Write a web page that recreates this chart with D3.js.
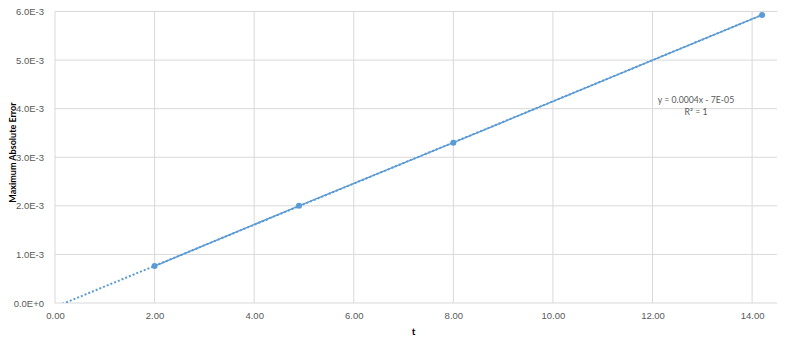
<!DOCTYPE html>
<html>
<head>
<meta charset="utf-8">
<script src="https://cdn.jsdelivr.net/npm/d3@7"></script>
<style>
  body { margin: 0; background: #fff; }
  svg { display: block; font-family: Lato, "Open Sans", sans-serif; }
</style>
</head>
<body>
<svg id="chart" width="800" height="346"></svg>
<script>
// data
const t_values = [2.0, 4.9, 8.0, 14.2];
const err_values = [0.00076, 0.0020, 0.0033, 0.00593];
const x_ticks = [0, 2, 4, 6, 8, 10, 12, 14];
const y_ticks = [0, 0.001, 0.002, 0.003, 0.004, 0.005, 0.006];
const eq_lines = ['y = 0.0004x - 7E-05', 'R² = 1'];

const svg = d3.select('#chart');
const W = 800, H = 346;
const mar = {left: 55, right: 23, top: 11.5, bottom: 43};

const x = d3.scaleLinear().domain([0, 14.5]).range([mar.left, W - mar.right]);
const y = d3.scaleLinear().domain([0, 0.006]).range([H - mar.bottom, mar.top]);

// linear trendline (least squares) like excel does
function lin_fit(xs, ys){
  const n = xs.length, mx = d3.mean(xs), my = d3.mean(ys);
  let sxy = 0, sxx = 0;
  for(let i = 0; i < n; i++){
    sxy += (xs[i] - mx) * (ys[i] - my);
    sxx += (xs[i] - mx) * (xs[i] - mx);
  }
  const b = sxy / sxx;
  return {slope: b, inter: my - b * mx};
}
const fit = lin_fit(t_values, err_values);

const grid = '#d9d9d9';

// gridlines
svg.append('g').selectAll('line.v')
  .data(x_ticks)
  .join('line')
  .attr('x1', d => x(d)).attr('x2', d => x(d))
  .attr('y1', y(0.006)).attr('y2', y(0))
  .attr('stroke', grid).attr('stroke-width', 1);

svg.append('g').selectAll('line.h')
  .data(y_ticks)
  .join('line')
  .attr('x1', x(0)).attr('x2', x(14.5))
  .attr('y1', d => y(d)).attr('y2', d => y(d))
  .attr('stroke', grid).attr('stroke-width', 1);

// axes (labels only, lines are the gridlines)
const fmt_e = d => {
  if(d === 0) return '0.0E+0';
  const e = Math.floor(Math.log10(d) + 1e-9);
  const m = d / Math.pow(10, e);
  return m.toFixed(1) + 'E' + (e < 0 ? '-' : '+') + Math.abs(e);
};

const xa = svg.append('g')
  .attr('transform', `translate(0, ${y(0) + 4})`)
  .call(d3.axisBottom(x).tickValues(x_ticks).tickFormat(d3.format('.2f')).tickSize(0));
const ya = svg.append('g')
  .attr('transform', `translate(${x(0) - 8}, 0)`)
  .call(d3.axisLeft(y).tickValues(y_ticks).tickFormat(fmt_e).tickSize(0));
[xa, ya].forEach(a => {
  a.select('.domain').remove();
  a.selectAll('text').attr('fill', '#595959').style('font-size', '9.5px');
});
xa.selectAll('text').attr('dy', '0.9em');

// clip for the trendline
svg.append('clipPath').attr('id', 'plot-clip')
  .append('rect')
  .attr('x', x(0)).attr('y', y(0.006) - 2)
  .attr('width', x(14.5) - x(0)).attr('height', y(0) - y(0.006) + 2);

const blue = '#5b9bd5';

// series line
const line = d3.line().x(d => x(d[0])).y(d => y(d[1]));
const pts = d3.zip(t_values, err_values);
svg.append('path')
  .attr('d', line(pts))
  .attr('fill', 'none')
  .attr('stroke', blue)
  .attr('stroke-width', 1.5);

// trendline (dotted)
const t_end = d3.max(t_values);
svg.append('path')
  .attr('clip-path', 'url(#plot-clip)')
  .attr('d', line([[0, fit.inter], [t_end, fit.inter + fit.slope * t_end]]))
  .attr('fill', 'none')
  .attr('stroke', blue)
  .attr('stroke-width', 2)
  .attr('stroke-dasharray', '2,2');

// markers
svg.append('g').selectAll('circle')
  .data(pts)
  .join('circle')
  .attr('cx', d => x(d[0]))
  .attr('cy', d => y(d[1]))
  .attr('r', 3)
  .attr('fill', blue);

// equation label
svg.append('text')
  .attr('x', 696).attr('y', 103)
  .attr('text-anchor', 'middle')
  .attr('fill', '#595959')
  .style('font-size', '8.7px')
  .selectAll('tspan')
  .data(eq_lines)
  .join('tspan')
  .attr('x', 696)
  .attr('dy', (d, i) => i === 0 ? 0 : 11.5)
  .text(d => d);

// axis titles
svg.append('text')
  .attr('x', x(7.2)).attr('y', 335)
  .attr('text-anchor', 'middle')
  .attr('font-weight', 'bold')
  .style('font-size', '10px')
  .text('t');

svg.append('text')
  .attr('transform', 'translate(16, 152.5) rotate(-90)')
  .attr('text-anchor', 'middle')
  .attr('font-weight', 'bold')
  .style('font-size', '9px')
  .text('Maximum Absolute Error');
</script>
</body>
</html>
